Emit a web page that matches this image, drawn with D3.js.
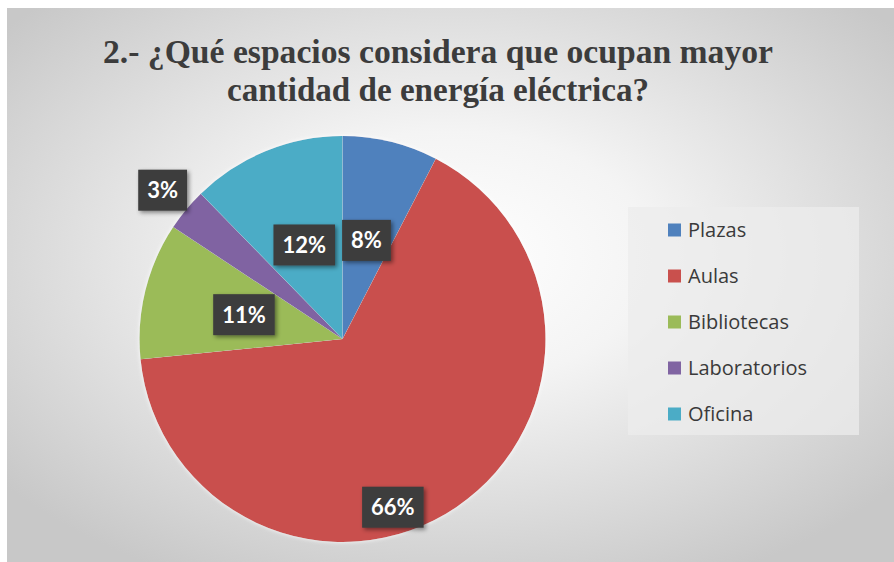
<!DOCTYPE html>
<html>
<head>
<meta charset="utf-8">
<script src="https://cdn.jsdelivr.net/npm/d3@7"></script>
<style>
  html, body { margin: 0; padding: 0; background: #ffffff; }
  svg { display: block; }
</style>
</head>
<body>
<svg id="chart" width="894" height="562"></svg>
<script>
// ---- Data ----
const titleLines = ["2.- ¿Qué espacios considera que ocupan mayor", "cantidad de energía eléctrica?"];
const categories = ["Plazas", "Aulas", "Bibliotecas", "Laboratorios", "Oficina"];
const values = [7.6, 65.8, 10.9, 3.4, 12.3];
const colors = ["#4f81bd", "#c9504d", "#9bbb59", "#8064a2", "#4bacc6"];

// ---- Layout ----
const W = 894, H = 562;
const svg = d3.select("#chart");
const defs = svg.append("defs");

const bg = defs.append("radialGradient").attr("id", "bg")
  .attr("cx", "50%").attr("cy", "45%").attr("r", "65%");
bg.append("stop").attr("offset", "0%").attr("stop-color", "#ffffff");
bg.append("stop").attr("offset", "35%").attr("stop-color", "#f4f4f4");
bg.append("stop").attr("offset", "100%").attr("stop-color", "#c8c8c8");

const sh = defs.append("filter").attr("id", "shadow")
  .attr("x", "-30%").attr("y", "-30%").attr("width", "160%").attr("height", "160%");
sh.append("feDropShadow").attr("dx", 2).attr("dy", 2).attr("stdDeviation", 2)
  .attr("flood-color", "#000").attr("flood-opacity", 0.45);

const pshadow = defs.append("filter").attr("id", "pshadow")
  .attr("x", "-10%").attr("y", "-10%").attr("width", "120%").attr("height", "120%");
pshadow.append("feDropShadow").attr("dx", 0).attr("dy", 0).attr("stdDeviation", 2)
  .attr("flood-color", "#ffffff").attr("flood-opacity", 0.9);

// chart area background
svg.append("rect").attr("x", 7).attr("y", 8).attr("width", W - 7).attr("height", H - 8)
  .attr("fill", "url(#bg)");

// ---- Title ----
const titleWidths = [670, 422];
svg.append("g").selectAll("text").data(titleLines).join("text")
  .attr("x", 438).attr("y", (d, i) => 63 + i * 38)
  .attr("text-anchor", "middle")
  .attr("font-family", "'Liberation Serif', 'DejaVu Serif', serif")
  .attr("font-weight", "bold")
  .attr("font-size", 34)
  .attr("fill", "#3c3c3c")
  .attr("textLength", (d, i) => titleWidths[i])
  .attr("lengthAdjust", "spacingAndGlyphs")
  .text(d => d);

// ---- Pie ----
const cx = 342.5, cy = 339, R = 203;
const data = categories.map((c, i) => ({ cat: c, value: values[i], color: colors[i] }));
const pie = d3.pie().value(d => d.value).sort(null);
const arcs = pie(data);
const arc = d3.arc().innerRadius(0).outerRadius(R);
const total = d3.sum(values);

const g = svg.append("g").attr("transform", `translate(${cx},${cy})`);
g.append("g").attr("filter", "url(#pshadow)")
  .selectAll("path").data(arcs).join("path")
  .attr("d", arc)
  .attr("fill", d => d.data.color);

// ---- Labels ----
function labelPos(d) {
  const share = d.data.value / total;
  let ang, r;
  if (share < 0.05) { ang = (d.startAngle + d.endAngle) / 2; r = R * 1.15; }
  else if (share > 0.5) { ang = d.startAngle + (d.endAngle - d.startAngle) * 0.574; r = R * 0.865; }
  else { ang = (d.startAngle + d.endAngle) / 2; r = R * 0.5; }
  return [r * Math.sin(ang), -r * Math.cos(ang)];
}
const lab = g.append("g").selectAll("g").data(arcs).join("g")
  .attr("transform", d => { const p = labelPos(d); return `translate(${p[0]},${p[1]})`; });
lab.append("text")
  .attr("text-anchor", "middle").attr("dy", "0.36em")
  .attr("font-family", "Lato, 'Open Sans', sans-serif")
  .attr("font-weight", "bold").attr("font-size", 22)
  .attr("fill", "#ffffff")
  .text(d => Math.round(d.data.value / total * 100) + "%");
lab.each(function() {
  const t = d3.select(this).select("text");
  const bb = t.node().getBBox();
  d3.select(this).insert("rect", "text")
    .attr("x", bb.x - 9).attr("y", -20.5)
    .attr("width", bb.width + 18).attr("height", 41)
    .attr("fill", "#3d3d3d")
    .attr("filter", "url(#shadow)");
});

// ---- Legend ----
const lg = svg.append("g");
lg.append("rect").attr("x", 628).attr("y", 207).attr("width", 231).attr("height", 228)
  .attr("fill", "#ececec").attr("opacity", 0.75);
const legendY = d3.scalePoint().domain(categories).range([230, 414]);
const items = lg.selectAll("g.item").data(data).join("g").attr("class", "item")
  .attr("transform", d => `translate(668,${legendY(d.cat)})`);
items.append("rect").attr("x", 0).attr("y", -6.5).attr("width", 13).attr("height", 13)
  .attr("fill", d => d.color);
items.append("text").attr("x", 20).attr("dy", "0.36em")
  .attr("font-family", "'Open Sans', sans-serif").attr("font-size", 20)
  .attr("fill", "#3a3a3a")
  .text(d => d.cat);
</script>
</body>
</html>
